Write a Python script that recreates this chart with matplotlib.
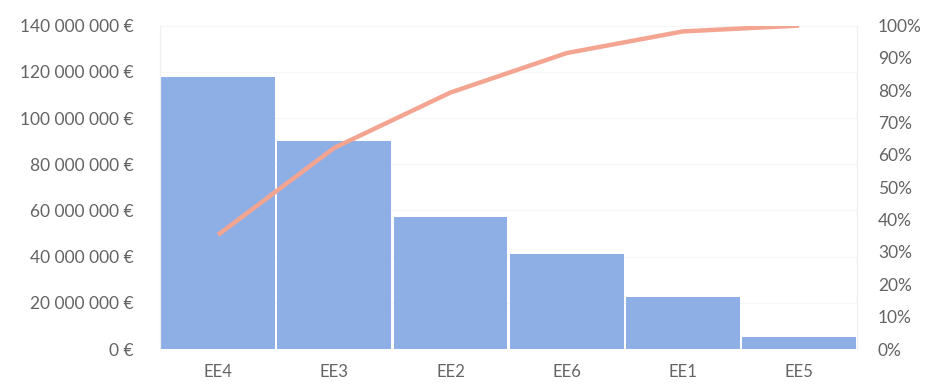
import numpy as np
import matplotlib.pyplot as plt
from matplotlib.ticker import FuncFormatter, PercentFormatter

plt.rcParams["font.family"] = ["Lato", "DejaVu Sans"]

# Pareto data: amounts per category, sorted descending, and cumulative share
categories = ["EE4", "EE3", "EE2", "EE6", "EE1", "EE5"]
amounts = [117_800_000, 90_000_000, 57_000_000, 41_300_000, 22_600_000, 5_200_000]
cumulative_pct = [35.3, 62.2, 79.3, 91.5, 98.2, 100.0]

bar_color = "#8eaee6"
line_color = "#f3a592"
text_color = "#646464"


def euro(v, pos):
    return f"{int(v):,}".replace(",", " ") + " €"


fig = plt.figure(figsize=(9.27, 3.85), dpi=100)
ax = fig.add_axes([0.1726, 0.0935, 0.752, 0.84])
x = np.arange(len(categories))

ax.bar(x, amounts, width=0.98, color=bar_color, zorder=2)
ax.set_xlim(-0.5, len(categories) - 0.5)
ax.set_ylim(0, 140_000_000)
ax.set_yticks(np.arange(0, 140_000_001, 20_000_000))
ax.yaxis.set_major_formatter(FuncFormatter(euro))
ax.set_xticks(x)
ax.set_xticklabels(categories)
ax.grid(axis="y", color="#f6f6f6", linewidth=0.8, zorder=0)

ax2 = ax.twinx()
ax2.plot(x, cumulative_pct, color=line_color, linewidth=3.2, solid_capstyle="butt", zorder=3)
ax2.set_ylim(0, 100)
ax2.set_yticks(np.arange(0, 101, 10))
ax2.yaxis.set_major_formatter(PercentFormatter(decimals=0))

for a in (ax, ax2):
    for side in ("top", "bottom"):
        a.spines[side].set_visible(False)
    a.spines["left"].set_color("#f0f0f0")
    a.spines["right"].set_color("#f0f0f0")
    a.tick_params(length=0, colors=text_color, labelsize=12.5)

ax.tick_params(axis="y", pad=19)
ax.tick_params(axis="x", pad=11, labelsize=12)
ax2.tick_params(axis="y", pad=15)

fig.savefig("out.png", dpi=100)
